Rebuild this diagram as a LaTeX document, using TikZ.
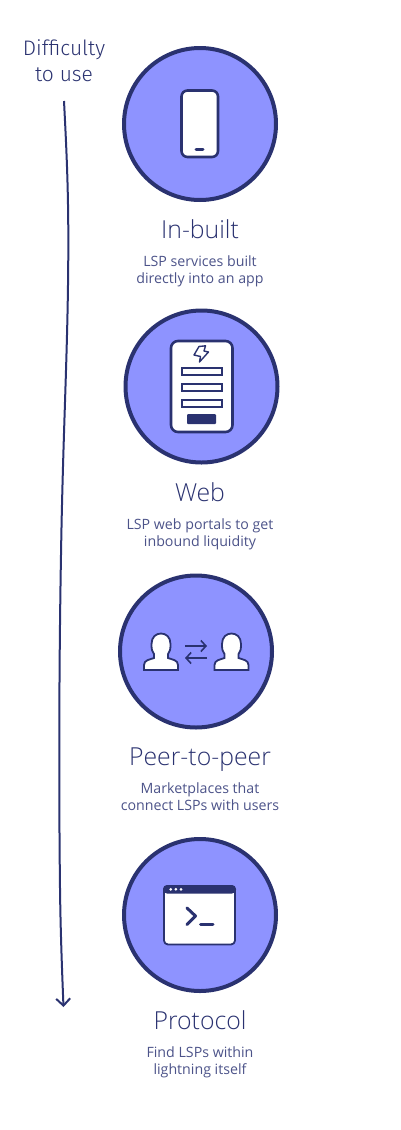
\documentclass[tikz,border=0pt]{standalone}
\usepackage{fontspec}
\usepackage{xcolor}
\usepackage{tikz}
\usetikzlibrary{positioning, arrows.meta}
\setmainfont{Open Sans}
\newfontfamily\titlefont{Open Sans Light}
\newfontfamily\handfont{Fira Sans Light}
\definecolor{navy}{HTML}{2A3270}
\definecolor{softnavy}{HTML}{4C5389}
\definecolor{periwinkle}{HTML}{8E93FF}
\tikzset{
    badge/.style={circle, draw=navy, line width=4pt, fill=periwinkle, minimum size=152pt, inner sep=0pt},
    heading/.style={font=\titlefont\fontsize{24.8}{24.8}\selectfont, text=navy, inner sep=0pt, text height=18pt, text depth=1pt},
    blurb/.style={font=\fontsize{14.2}{17}\selectfont, text=softnavy, align=center, inner sep=0pt},
    icon/.style={draw=navy, line width=2.6pt, fill=white, line join=round},
}
\begin{document}
\begin{tikzpicture}[x=1pt, y=-1pt]
    \useasboundingbox (0,0) rectangle (400,1130);

    % Difficulty axis
    \node[font=\handfont\fontsize{21}{26}\selectfont, text=navy, align=center, inner sep=0pt] (difficulty) at (64,61) {Difficulty\\to use};
    \coordinate (axisTop) at (64,101);
    \coordinate (axisEnd) at (63.5,1007);
    \draw[navy, line width=2pt, -{Straight Barb[length=7pt, width=14pt]}] (axisTop) .. controls (66.5,150) and (68.5,190) .. (68.3,250) .. controls (68,350) and (63,430) .. (61,555) .. controls (59.5,640) and (58.5,760) .. (60,888) .. controls (60.5,930) and (62,970) .. (axisEnd);

    % Badges
    \node[badge] (inbuilt) at (200,124) {};
    \node[badge] (web) at (201.5,386.5) {};
    \node[badge] (peer) at (196,651.5) {};
    \node[badge] (protocol) at (200,915) {};

    % In-built
    \node[heading, below=18pt of inbuilt] (inbuiltTitle) {In-built};
    \node[blurb, below=16pt of inbuiltTitle] (inbuiltText) {LSP services built\\directly into an app};

    % Web
    \node[heading, below=18.5pt of web, xshift=-1.5pt] (webTitle) {Web};
    \node[blurb, below=16pt of webTitle] (webText) {LSP web portals to get\\inbound liquidity};

    % Peer-to-peer
    \node[heading, below=18pt of peer, xshift=4pt] (peerTitle) {Peer-to-peer};
    \node[blurb, below=16pt of peerTitle] (peerText) {Marketplaces that\\connect LSPs with users};

    % Protocol
    \node[heading, below=18pt of protocol] (protocolTitle) {Protocol};
    \node[blurb, below=16pt of protocolTitle] (protocolText) {Find LSPs within\\lightning itself};

    % Phone icon
    \draw[icon, rounded corners=6pt] (181.5,90.5) rectangle (218,157);
    \draw[navy, line width=3pt, line cap=round] (196,149.8) -- (203,149.8);

    % Web form icon
    \draw[icon, rounded corners=7pt] (171,341) rectangle (232.5,432);
    \draw[icon, line width=2pt, line join=miter] (181.5,367.5) rectangle (221.5,375);
    \draw[icon, line width=2pt, line join=miter] (181.5,383.5) rectangle (221.5,391);
    \draw[icon, line width=2pt, line join=miter] (181.5,399.5) rectangle (221.5,407);
    \fill[navy, rounded corners=1pt] (187,414) rectangle (216,424);
    \draw[icon, line width=1.4pt] (199,346.5) -- (205.5,345.8) -- (204,351) -- (208.5,352) -- (199.5,362) -- (200.5,356.5) -- (194,355) -- cycle;

    % Two people icon
    \foreach \px in {161,231.5} {
        \draw[icon, line width=1.8pt, line join=miter] (\px-17,670) -- (\px-17,665) .. controls (\px-17,660) and (\px-11,659.5) .. (\px-7,658) -- (\px-7,654) .. controls (\px-9,652) and (\px-9.5,649) .. (\px-9.5,644) .. controls (\px-9.5,637) and (\px-5,633.5) .. (\px,633.5) .. controls (\px+5,633.5) and (\px+9.5,637) .. (\px+9.5,644) .. controls (\px+9.5,649) and (\px+9,652) .. (\px+7,654) -- (\px+7,658) .. controls (\px+11,659.5) and (\px+17,660) .. (\px+17,665) -- (\px+17,670) -- cycle;
    }
    \draw[navy, line width=1.6pt, -{Straight Barb[length=5pt, width=11pt]}] (185,646) -- (207,646);
    \draw[navy, line width=1.6pt, -{Straight Barb[length=5pt, width=11pt]}] (207,658) -- (185,658);

    % Terminal icon
    \draw[icon, line width=1.8pt, rounded corners=4pt] (164,886) rectangle (235,944.5);
    \fill[navy, rounded corners=4pt] (163,885) -- (236,885) -- (236,893.5) -- (163,893.5) -- cycle;
    \foreach \dx in {170.7,175.9,181} {
        \fill[white] (\dx,889.3) circle (1.5pt);
    }
    \draw[navy, line width=3pt, line cap=round, line join=round] (187,908) -- (195.5,916) -- (187,924.5);
    \draw[navy, line width=3pt, line cap=round] (200.5,924.7) -- (213,924.7);
\end{tikzpicture}
\end{document}
